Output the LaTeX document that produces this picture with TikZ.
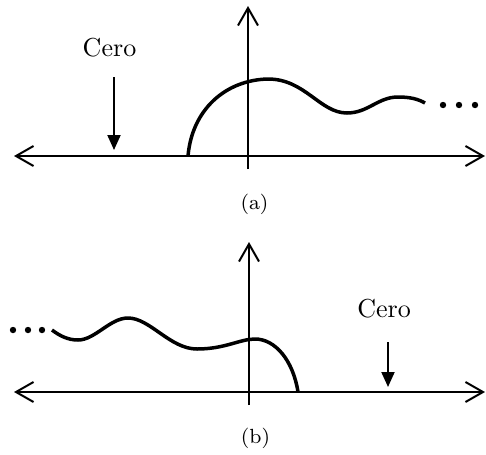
\documentclass[tikz,border=0pt]{standalone}
\usepackage{tikz}
\usetikzlibrary{arrows.meta}

\begin{document}
\begin{tikzpicture}[
        x=0.4pt,y=-0.4pt,
        axis/.style={line width=0.8pt,{Straight Barb[length=7pt,width=8pt]}-{Straight Barb[length=7pt,width=8pt]}},
        yaxis/.style={line width=0.8pt,-{Straight Barb[length=7pt,width=8pt]}},
        curve/.style={line width=1.4pt},
        zero/.style={line width=0.8pt,-{Triangle[length=6pt,width=5.2pt]}},
        lbl/.style={anchor=base,inner sep=0pt,font=\fontsize{10.4}{12}\selectfont},
        sublbl/.style={anchor=base,inner sep=0pt,font=\fontsize{8.2}{10}\selectfont}]
        \useasboundingbox (0,0) rectangle (486,454);
        \coordinate (al) at (14,156);
        \coordinate (ar) at (485,156);
        \coordinate (ab) at (248,169);
        \coordinate (at) at (248,6);
        \draw[axis] (al) -- (ar);
        \draw[yaxis] (ab) -- (at);
        \draw[curve] (188,156) .. controls (192,110) and (225,80) .. (268,79)
            .. controls (305,79) and (320,113) .. (347,113)
            .. controls (368,113) and (378,97) .. (398,97)
            .. controls (410,97) and (418,99) .. (425,103);
        \foreach \x in {443,459,475} \fill (\x,105) circle (3.2);
        \node[lbl] (ceroa) at (109.5,56) {Cero};
        \coordinate (za) at (114,77);
        \coordinate (zat) at (114,150);
        \draw[zero] (za) -- (zat);
        \node[sublbl] (capa) at (254.5,209) {(a)};
        \coordinate (bl) at (14,392);
        \coordinate (br) at (485,392);
        \coordinate (bb) at (249,405);
        \coordinate (bt) at (249,242);
        \draw[axis] (bl) -- (br);
        \draw[yaxis] (bb) -- (bt);
        \draw[curve] (52,330) .. controls (60,336) and (68,340) .. (78,340)
            .. controls (95,340) and (110,318) .. (128,318)
            .. controls (150,318) and (170,349) .. (197,349)
            .. controls (225,349) and (240,339) .. (255,339)
            .. controls (275,339) and (293,360) .. (298,392);
        \foreach \x in {13,28,42} \fill (\x,330) circle (3.2);
        \node[lbl] (cerob) at (384,317) {Cero};
        \coordinate (zb) at (388,342);
        \coordinate (zbt) at (388,387);
        \draw[zero] (zb) -- (zbt);
        \node[sublbl] (capb) at (255.5,443) {(b)};
    \end{tikzpicture}
\end{document}
